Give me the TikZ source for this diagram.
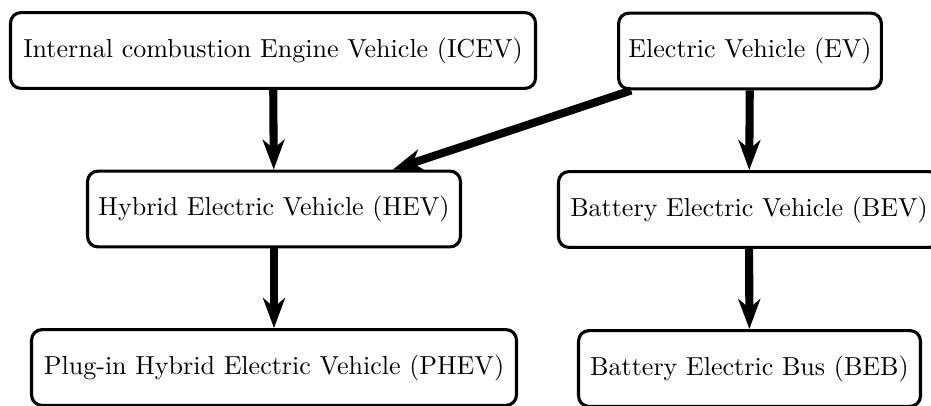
\documentclass[tikz,border=0pt]{standalone}
\usetikzlibrary{arrows.meta}
\begin{document}
\begin{tikzpicture}[x=0.384pt,y=-0.384pt,
  vehicle/.style={draw, very thick, rounded corners=4pt, minimum height=29.1pt,
    inner xsep=3pt, font=\fontsize{10}{12}\selectfont},
  flow/.style={line width=3.1pt, -{Stealth[length=11.5pt,width=8.4pt,inset=3.5pt]}}]
\useasboundingbox (0,0) rectangle (931,405);

% top row
\node[vehicle, minimum width=201.6pt] (icev) at (273,50.5) {Internal combustion Engine Vehicle (ICEV)};
\node[vehicle, minimum width=100.9pt] (ev) at (750,51) {Electric Vehicle (EV)};

% middle row
\node[vehicle, minimum width=143.2pt] (hev) at (274,209) {Hybrid Electric Vehicle (HEV)};
\node[vehicle, minimum width=146.3pt] (bev) at (749,209.5) {Battery Electric Vehicle (BEV)};

% bottom row
\node[vehicle, minimum width=186.2pt] (phev) at (274,367.5) {Plug-in Hybrid Electric Vehicle (PHEV)};
\node[vehicle, minimum width=131.3pt] (beb) at (749.5,368.5) {Battery Electric Bus (BEB)};

% connections
\draw[flow] (icev) -- (hev);
\draw[flow] (ev) -- (hev);
\draw[flow] (ev) -- (bev);
\draw[flow] (hev) -- (phev);
\draw[flow] (bev) -- (beb);
\end{tikzpicture}
\end{document}
